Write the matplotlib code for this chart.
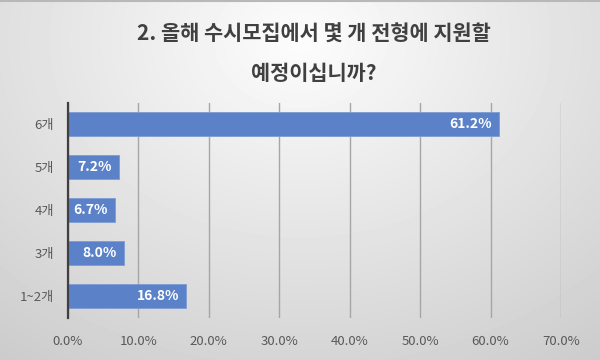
import numpy as np
import matplotlib.pyplot as plt

plt.rcParams['font.family'] = ['Noto Sans CJK KR', 'DejaVu Sans']

# data
categories = ['1~2개', '3개', '4개', '5개', '6개']
values = [16.8, 8.0, 6.7, 7.2, 61.2]
title = '2. 올해 수시모집에서 몇 개 전형에 지원할\n예정이십니까?'
xticks = [0, 10, 20, 30, 40, 50, 60, 70]

fig = plt.figure(figsize=(6, 3.6), dpi=100)

# grey radial gradient background
bg = fig.add_axes([0, 0, 1, 1], zorder=-10)
yy, xx = np.mgrid[0:360, 0:600]
r = np.sqrt(((xx - 300) / 420.0) ** 2 + ((yy - 40) / 330.0) ** 2)
shade = np.clip(0.99 - 0.16 * r, 0.8, 1.0)
bg.imshow(shade, cmap='gray', vmin=0, vmax=1, aspect='auto',
          extent=[0, 1, 0, 1], origin='upper')
bg.plot([0, 1], [0.997, 0.997], color='#b8b8b8', lw=1.5)
bg.set_xlim(0, 1)
bg.set_ylim(0, 1)
bg.axis('off')

ax = fig.add_axes([0.113, 0.117, 0.822, 0.597])
ax.patch.set_alpha(0)

y = np.arange(len(categories))
bars = ax.barh(y, values, height=0.56, color='#5b82c9', edgecolor='#7d9bd4', lw=0.6, zorder=3)

for b, v in zip(bars, values):
    ax.annotate(f'{v:.1f}%', (b.get_width(), b.get_y() + b.get_height() / 2),
                xytext=(-5, 0), textcoords='offset points', ha='right', va='center',
                color='white', fontsize=10, fontweight='bold', zorder=4)

ax.set_xlim(0, 70)
ax.set_ylim(-0.5, len(categories) - 0.5)
ax.set_xticks(xticks)
ax.set_xticklabels([f'{t:.1f}%' for t in xticks])
ax.set_yticks(y)
ax.set_yticklabels(categories)
ax.tick_params(axis='both', length=0, colors='#595959', labelsize=9.5)
ax.tick_params(axis='x', pad=12)
ax.tick_params(axis='y', pad=10)
ax.grid(axis='x', color='#a6a6a6', lw=1, zorder=0)
for s in ['top', 'right', 'bottom']:
    ax.spines[s].set_visible(False)
ax.spines['left'].set_color('#404040')
ax.spines['left'].set_linewidth(1.6)
ax.spines['left'].set_zorder(5)

fig.text(0.523, 0.85, title, ha='center', va='center', fontsize=15,
         fontweight='bold', color='#404040', linespacing=2.1)

fig.savefig('out.png', dpi=100)
